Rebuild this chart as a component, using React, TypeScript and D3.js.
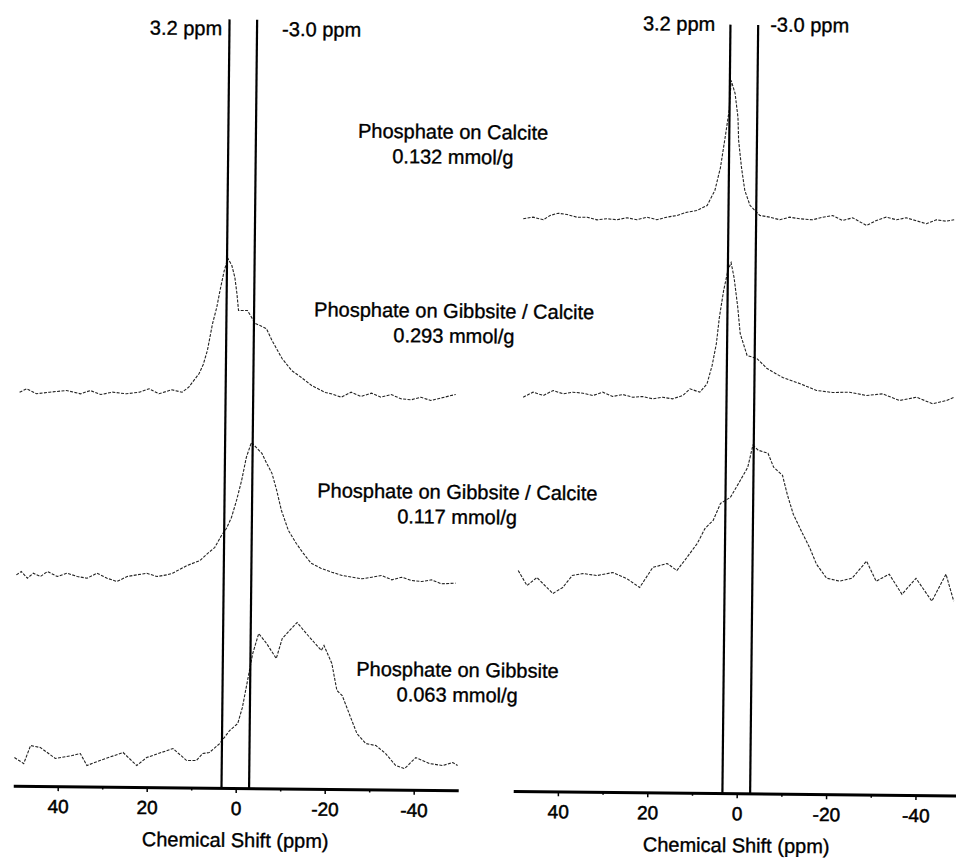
import React, { useRef, useEffect } from "react";
import * as d3 from "d3";

// axis ticks (ppm)
const ppmTicks = [40, 20, 0, -20, -40];
const ppmMinorTicks = [30, 10, -10, -30];

// reference shifts marked by vertical lines
const refShifts = [3.2, -3.0];
const refLabels = ["3.2 ppm", "-3.0 ppm"];

const sampleNames = [
  "Phosphate on Calcite",
  "Phosphate on Gibbsite / Calcite",
  "Phosphate on Gibbsite / Calcite",
  "Phosphate on Gibbsite",
];
const sampleLoadings = ["0.132 mmol/g", "0.293 mmol/g", "0.117 mmol/g", "0.063 mmol/g"];

// spectra: [ppm, intensity a.u.] — left panel
const left293: [number, number][] = [
  [49.5, -0.5], [47.9, 3], [45.7, -1.9], [42.8, -0.2], [39.0, 1.7], [35.8, -1.5], [33.6, 1.9],
  [31.3, -2], [28.6, 0.5], [25.5, -1], [22.6, 0.8], [20.4, 4.3], [18.2, -0.6], [15.3, 3.5],
  [13.0, 1.2], [11.5, 6.3], [9.2, 20.1], [8.3, 29.1], [7.4, 43.2], [6.3, 70.2], [5.4, 86.3],
  [4.7, 103.3], [3.8, 123.3], [3.0, 135.4], [2.1, 128.4], [1.4, 116.5], [0.9, 100.5], [0.5, 83.5],
  [-1.5, 83.6], [-3.3, 70.7], [-5.8, 65.7], [-7.1, 53.8], [-9.4, 35.9], [-11.6, 24], [-13.8, 17.1],
  [-16.1, 9.3], [-19.2, 2.4], [-20.5, 1.2], [-22.8, -2.1], [-25.0, 3], [-27.2, -1.2], [-29.6, 2.2],
  [-31.7, -1.7], [-34.0, 1.1], [-36.2, -3.1], [-38.5, -4], [-40.7, -1.3], [-42.9, -4.5],
  [-46.0, -1], [-48.5, 1.8],
];
const left117: [number, number][] = [
  [49.8, -0.2], [48.7, 3.2], [47.3, -3.4], [46.0, 1.6], [44.4, -1.6], [42.8, 3.5], [40.6, -1.4],
  [38.4, 2.0], [36.1, -1.2], [33.9, -2.8], [31.7, 2.3], [29.4, -2.6], [27.2, -5.8], [24.9, -0.7],
  [22.7, 1.1], [20.5, 2.8], [18.2, -0.4], [16.0, 1.4], [14.7, 3.1], [11.5, 10.9], [8.6, 16],
  [6.9, 23.1], [5.3, 29.2], [3.8, 41.3], [2.7, 48.4], [1.6, 59.4], [0.5, 76.5], [-0.6, 96.5],
  [-1.6, 119.6], [-2.7, 134.6], [-3.8, 129.7], [-5.1, 123.8], [-6.2, 113.9], [-7.4, 104],
  [-8.5, 87.1], [-9.6, 67.2], [-11.2, 47.3], [-13.0, 34.4], [-14.6, 24.5], [-16.4, 14.6],
  [-18.6, 9.7], [-21.1, 5.8], [-23.4, 2.6], [-25.6, 1], [-27.9, -0.5], [-30.1, 1.2], [-32.3, 3],
  [-34.6, -1.2], [-36.8, 1.5], [-39.0, -1.7], [-41.3, -2.6], [-43.5, -0.8], [-45.7, -4.7],
  [-48.9, -3.9],
];
const left063: [number, number][] = [
  [49.8, 2.1], [47.7, -3.8], [46.2, 14.3], [44.0, 12.4], [40.6, 1.6], [36.8, 4.7], [35.0, 6.8],
  [33.5, -5.1], [30.6, 0], [25.4, 8.3], [22.3, -4.6], [20.1, 3.5], [14.2, 12.8], [11.1, 0.9],
  [8.9, 1], [7.5, 8.1], [6.0, 9.2], [3.7, 18.3], [1.5, 31.4], [-0.3, 38.5], [-1.3, 54.5],
  [-2.4, 81.6], [-3.5, 108.6], [-4.8, 128.7], [-6.6, 118.8], [-8.8, 103.9], [-10.1, 124],
  [-11.7, 132], [-13.4, 140.1], [-15.5, 129.2], [-17.3, 120.3], [-18.9, 112.4], [-19.5, 117.4],
  [-21.3, 99.5], [-22.5, 72.6], [-23.7, 67.6], [-25.3, 49.7], [-27.1, 29.7], [-29.1, 19.8],
  [-31.4, 17.9], [-33.6, 10], [-35.9, -1.9], [-37.9, -4.8], [-40.4, 6.3], [-43.5, 0.5],
  [-46.4, -1.4], [-48.7, 1.7], [-49.8, -1.2],
];

// right panel
const right132: [number, number][] = [
  [49.1, -1.3], [46.9, 0.4], [44.6, -2.1], [43.1, 2.3], [41.3, 4.6], [39.3, 3.4], [37.1, 0.8],
  [34.8, 0.9], [32.6, -1.6], [30.4, -0.4], [28.1, -1.3], [25.9, 0.8], [23.7, -1.1], [21.4, 1.6],
  [19.2, -0.9], [17.0, 1.8], [14.7, 3.6], [12.5, 7], [10.3, 8.8], [8.0, 13.9], [6.3, 29],
  [5.1, 52], [4.0, 86.1], [3.3, 109.1], [2.9, 139.1], [2.0, 126.2], [1.3, 102.2], [1.1, 79.2],
  [0.4, 52.3], [-0.4, 29.3], [-1.6, 14.4], [-3.8, 4.5], [-6.0, 2.9], [-8.3, 0.4], [-10.5, 3.1],
  [-12.7, 1.6], [-15.6, 0.7], [-17.9, 3.4], [-20.1, 5.2], [-22.3, 0.3], [-24.6, 3.1],
  [-27.7, -4.4], [-29.9, 0.7], [-32.1, 4.1], [-34.4, 1.6], [-36.6, 3.7], [-41.1, -2.1],
  [-43.3, 2], [-45.5, 0.7], [-47.3, 2.2],
];
const right293: [number, number][] = [
  [48.7, -2.2], [46.5, 2.9], [44.2, -0.3], [42.0, 4.8], [39.8, 1.6], [37.6, 3.3], [35.3, 2.4],
  [33.1, 0.2], [30.9, 3.6], [28.7, -0.6], [26.4, 1.5], [24.2, -1.1], [22.0, -0.3], [19.7, -2.5],
  [17.5, -0.8], [15.3, -2.3], [13.0, 1.1], [11.4, 7.9], [9.2, 4.6], [7.6, 13.1], [6.5, 31.5],
  [5.6, 53.5], [5.0, 79.5], [4.1, 106.6], [3.2, 126.6], [2.5, 134.6], [1.8, 119.7], [0.9, 89.7],
  [0.3, 63.7], [-1.3, 41.8], [-3.5, 38.9], [-5.8, 29], [-9.3, 20.2], [-13.1, 14.4], [-16.9, 7.6],
  [-20.5, 5.7], [-24.3, 6.2], [-28.1, 3.1], [-31.7, 4.9], [-35.5, -1.6], [-39.3, 1.9],
  [-42.9, -4.5], [-46.0, -1.1], [-47.8, 2.3],
];
const right117: [number, number][] = [
  [49.4, 8.4], [47.4, -6.5], [45.2, 1.6], [41.6, -14.2], [39.4, -8.1], [37.3, 4], [34.9, 6.1],
  [31.8, 4.2], [28.2, 7.4], [25.1, 1.5], [22.2, -7.3], [19.3, 12.9], [16.1, 17], [13.9, 10.1],
  [11.7, 23.2], [9.4, 37.4], [7.7, 52.5], [5.9, 60.6], [4.3, 77.7], [2.1, 83.8], [0.3, 97.9],
  [-1.7, 114], [-2.8, 136.1], [-4.0, 131.2], [-6.2, 128.3], [-7.5, 114.3], [-9.5, 106.4],
  [-10.6, 87.5], [-12.0, 67.6], [-14.2, 47.7], [-15.8, 33.8], [-17.3, 17.9], [-19.6, 4],
  [-22.5, 1.1], [-25.3, 4.2], [-28.5, 21.4], [-30.7, 1.5], [-33.6, 8.6], [-36.5, -11.3],
  [-39.6, 4.8], [-43.2, -17.9], [-46.3, 9.2], [-48.1, -17.7],
];

// stacking offsets (a.u.)
const leftOffsets = [394, 211, 26];
const rightOffsets = [573.5, 396, 212];

const FONT = "'Liberation Sans', Arial, Helvetica, sans-serif";
const W = 956;
const H = 861;
const AXIS_Y = 790.5;
const LINE_TOP = 22;

const App = () => {
  const svgRef = useRef<SVGSVGElement>(null);

  useEffect(() => {
    const svg = d3.select(svgRef.current);
    svg.selectAll("*").remove();

    // the scanned figure is slightly rotated
    const root = svg.append("g").attr("transform", "rotate(0.6, 478, 430)");

    const yScale = d3.scaleLinear().domain([0, AXIS_Y]).range([AXIS_Y, 0]);

    const panels = [
      {
        x: d3.scaleLinear().domain([50, -50]).range([17, 462]),
        traces: [left293, left117, left063],
        offsets: leftOffsets,
        labelEnd: 218,
        labelStart: 278,
        labelY: 38,
      },
      {
        x: d3.scaleLinear().domain([50, -50]).range([517, 964]),
        traces: [right132, right293, right117],
        offsets: rightOffsets,
        labelEnd: 711,
        labelStart: 766,
        labelY: 28.5,
      },
    ];

    panels.forEach((p) => {
      const g = root.append("g");

      // spectra
      const line = d3.line<[number, number]>().x((d) => p.x(d[0]));
      p.traces.forEach((tr, i) => {
        g.append("path")
          .datum(tr)
          .attr("fill", "none")
          .attr("stroke", "#222")
          .attr("stroke-width", 1.1)
          .attr("stroke-dasharray", "3 1.4")
          .attr("d", line.y((d) => yScale(d[1] + p.offsets[i]))(tr));
      });

      // reference lines
      g.selectAll(".ref")
        .data(refShifts)
        .join("line")
        .attr("class", "ref")
        .attr("x1", (d) => p.x(d))
        .attr("x2", (d) => p.x(d))
        .attr("y1", LINE_TOP)
        .attr("y2", AXIS_Y)
        .attr("stroke", "#000")
        .attr("stroke-width", 2.2);

      g.append("text")
        .attr("x", p.labelEnd)
        .attr("y", p.labelY)
        .attr("text-anchor", "end")
        .text(refLabels[0]);
      g.append("text")
        .attr("x", p.labelStart)
        .attr("y", p.labelY)
        .attr("text-anchor", "start")
        .text(refLabels[1]);

      // axis
      const axis = g
        .append("g")
        .attr("transform", `translate(0,${AXIS_Y})`)
        .call(
          d3
            .axisBottom(p.x)
            .tickValues(ppmTicks)
            .tickSize(5)
            .tickSizeOuter(0)
            .tickFormat((d) => String(d))
        );
      axis.select(".domain").attr("stroke", "#000").attr("stroke-width", 3);
      axis.selectAll(".tick line").attr("stroke", "#000").attr("stroke-width", 1.5);
      axis
        .selectAll(".tick text")
        .attr("y", 27)
        .attr("dy", 0)
        .attr("fill", "#000")
        .attr("stroke", "#000")
        .attr("stroke-width", 0.5)
        .style("font-family", FONT)
        .style("font-size", "19px");

      const minor = g
        .append("g")
        .attr("transform", `translate(0,${AXIS_Y})`)
        .call(d3.axisBottom(p.x).tickValues(ppmMinorTicks).tickSize(3).tickFormat(() => ""));
      minor.select(".domain").remove();
      minor.selectAll(".tick line").attr("stroke", "#000").attr("stroke-width", 1.5);

      g.append("text")
        .attr("x", p.x(0))
        .attr("y", 849.5)
        .attr("text-anchor", "middle")
        .text("Chemical Shift (ppm)");
    });

    // sample annotations
    const annoPos = [
      [450, 139],
      [453, 318],
      [458, 499],
      [460, 677],
    ];
    sampleNames.forEach((name, i) => {
      const [ax, ay] = annoPos[i];
      root.append("text").attr("x", ax).attr("y", ay).attr("text-anchor", "middle").text(name);
      root
        .append("text")
        .attr("x", ax)
        .attr("y", ay + 25)
        .attr("text-anchor", "middle")
        .text(sampleLoadings[i]);
    });

    root
      .selectAll("text")
      .filter(function () {
        return !(this as Element).closest(".tick");
      })
      .attr("fill", "#000")
      .attr("stroke", "#000")
      .attr("stroke-width", 0.35)
      .style("font-family", FONT)
      .style("font-size", "20px");
  }, []);

  return (
    <svg
      ref={svgRef}
      width={W}
      height={H}
      viewBox={`0 0 ${W} ${H}`}
      style={{ position: "absolute", left: 0, top: 0, background: "#fff", display: "block" }}
    />
  );
};

export default App;
